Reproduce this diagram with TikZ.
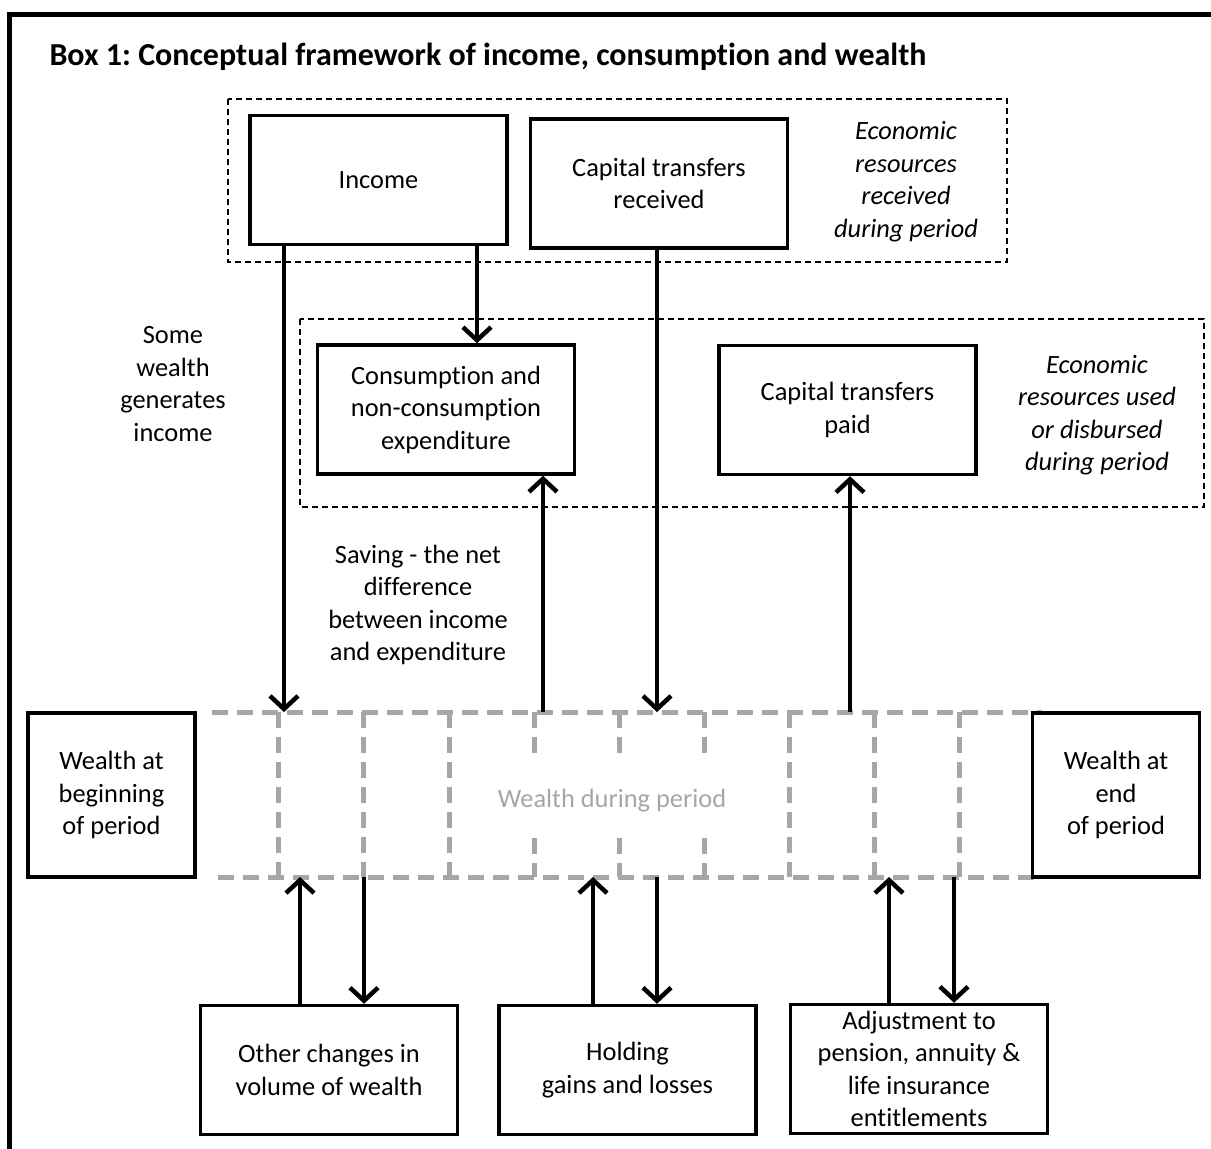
\documentclass[tikz,border=0pt]{standalone}
\usepackage{fontspec}
\setmainfont{Carlito}[Ligatures=NoCommon]
\usetikzlibrary{arrows.meta}
\definecolor{wgrey}{RGB}{166,166,166}
\frenchspacing

\begin{document}
\begin{tikzpicture}[x=1pt,y=-1pt,
	box/.style={shape=rectangle,draw=black,line width=3.5pt,fill=white,minimum width=257pt,minimum height=129pt,align=center,inner sep=0pt},
	wbox/.style={box,minimum width=167pt,minimum height=164pt},
	note/.style={align=center},
	em/.style={align=center,font=\fontsize{26.4}{32.5}\selectfont\itshape},
	group/.style={draw=black,line width=1.4pt,dash pattern=on 6pt off 4pt},
	cell/.style={draw=wgrey,line width=5pt,dash pattern=on 16pt off 9pt},
	flow/.style={line width=4.5pt,-{Straight Barb[length=13pt,width=28pt,line width=4.5pt]}},
	font=\fontsize{26.4}{32.5}\selectfont]

	\useasboundingbox (0,0) rectangle (1211,1149);
	\clip (0,0) rectangle (1211,1149);
	\draw[line width=5pt] (9,14) rectangle (1240,1180);

	\node[anchor=west,font=\fontsize{32}{38}\selectfont\bfseries] (title) at (46,57) {Box 1: Conceptual framework of income, consumption and wealth};

	% dashed groups
	\draw[group] (228,99) rectangle (1007,262);
	\draw[group] (300,319) rectangle (1204,507);

	% wealth during period
	\draw[cell] (212,712) -- (1042,712);
	\draw[cell] (218,877) -- (1042,877);
	\foreach \x in {278,363,449,789,874,959}
		\draw[cell] (\x,712) -- (\x,877);
	\foreach \x in {534,619,704} {
		\draw[cell] (\x,712) -- (\x,762);
		\draw[cell] (\x,838) -- (\x,877);
	}
	\node[text=wgrey] (during) at (612,801) {Wealth during period};
	\coordinate (wtop) at (0,712);
	\coordinate (wbot) at (0,877);

	\node[box] (inc)   at (378.5,180)  {Income};
	\node[box] (ctr)   at (659,183.5)  {Capital transfers\\received};
	\node[em]  (recv)  at (906,181.5)  {Economic\\resources\\received\\during period};

	\node[note] (some)   at (173,384)  {Some\\wealth\\generates\\income};
	\node[box]  (cons)   at (446,409.5) {Consumption and\\non-consumption\\expenditure};
	\node[box]  (cpaid)  at (847.5,410) {Capital transfers\\paid};
	\node[em]   (used)   at (1097,415) {Economic\\resources used\\or disbursed\\during period};
	\node[note] (saving) at (418,605)  {Saving - the net\\difference\\between income\\and expenditure};

	\node[wbox] (wbeg) at (111.5,795) {Wealth at\\beginning\\of period};
	\node[wbox] (wend) at (1116,795)  {Wealth at\\end\\of period};

	\node[box] (other) at (329,1070)   {Other changes in\\volume of wealth};
	\node[box] (hold)  at (627.5,1070) {Holding\\gains and losses};
	\node[box] (adj)   at (919,1069)   {Adjustment to\\pension, annuity \&\\life insurance\\entitlements};

	\draw[flow] (inc.south -| 284,0) -- (wtop -| 284,0);
	\draw[flow] (inc.south -| 477,0) -- (cons.north -| 477,0);
	\draw[flow] (ctr.south -| 657,0) -- (wtop -| 657,0);
	\draw[flow] (wtop -| 543,0) -- (cons.south -| 543,0);
	\draw[flow] (wtop -| 850,0) -- (cpaid.south -| 850,0);
	\draw[flow] (other.north -| 300,0) -- (wbot -| 300,0);
	\draw[flow] (wbot -| 364,0) -- (other.north -| 364,0);
	\draw[flow] (hold.north -| 593,0) -- (wbot -| 593,0);
	\draw[flow] (wbot -| 657,0) -- (hold.north -| 657,0);
	\draw[flow] (adj.north -| 889,0) -- (wbot -| 889,0);
	\draw[flow] (wbot -| 954,0) -- (adj.north -| 954,0);

\end{tikzpicture}
\end{document}
